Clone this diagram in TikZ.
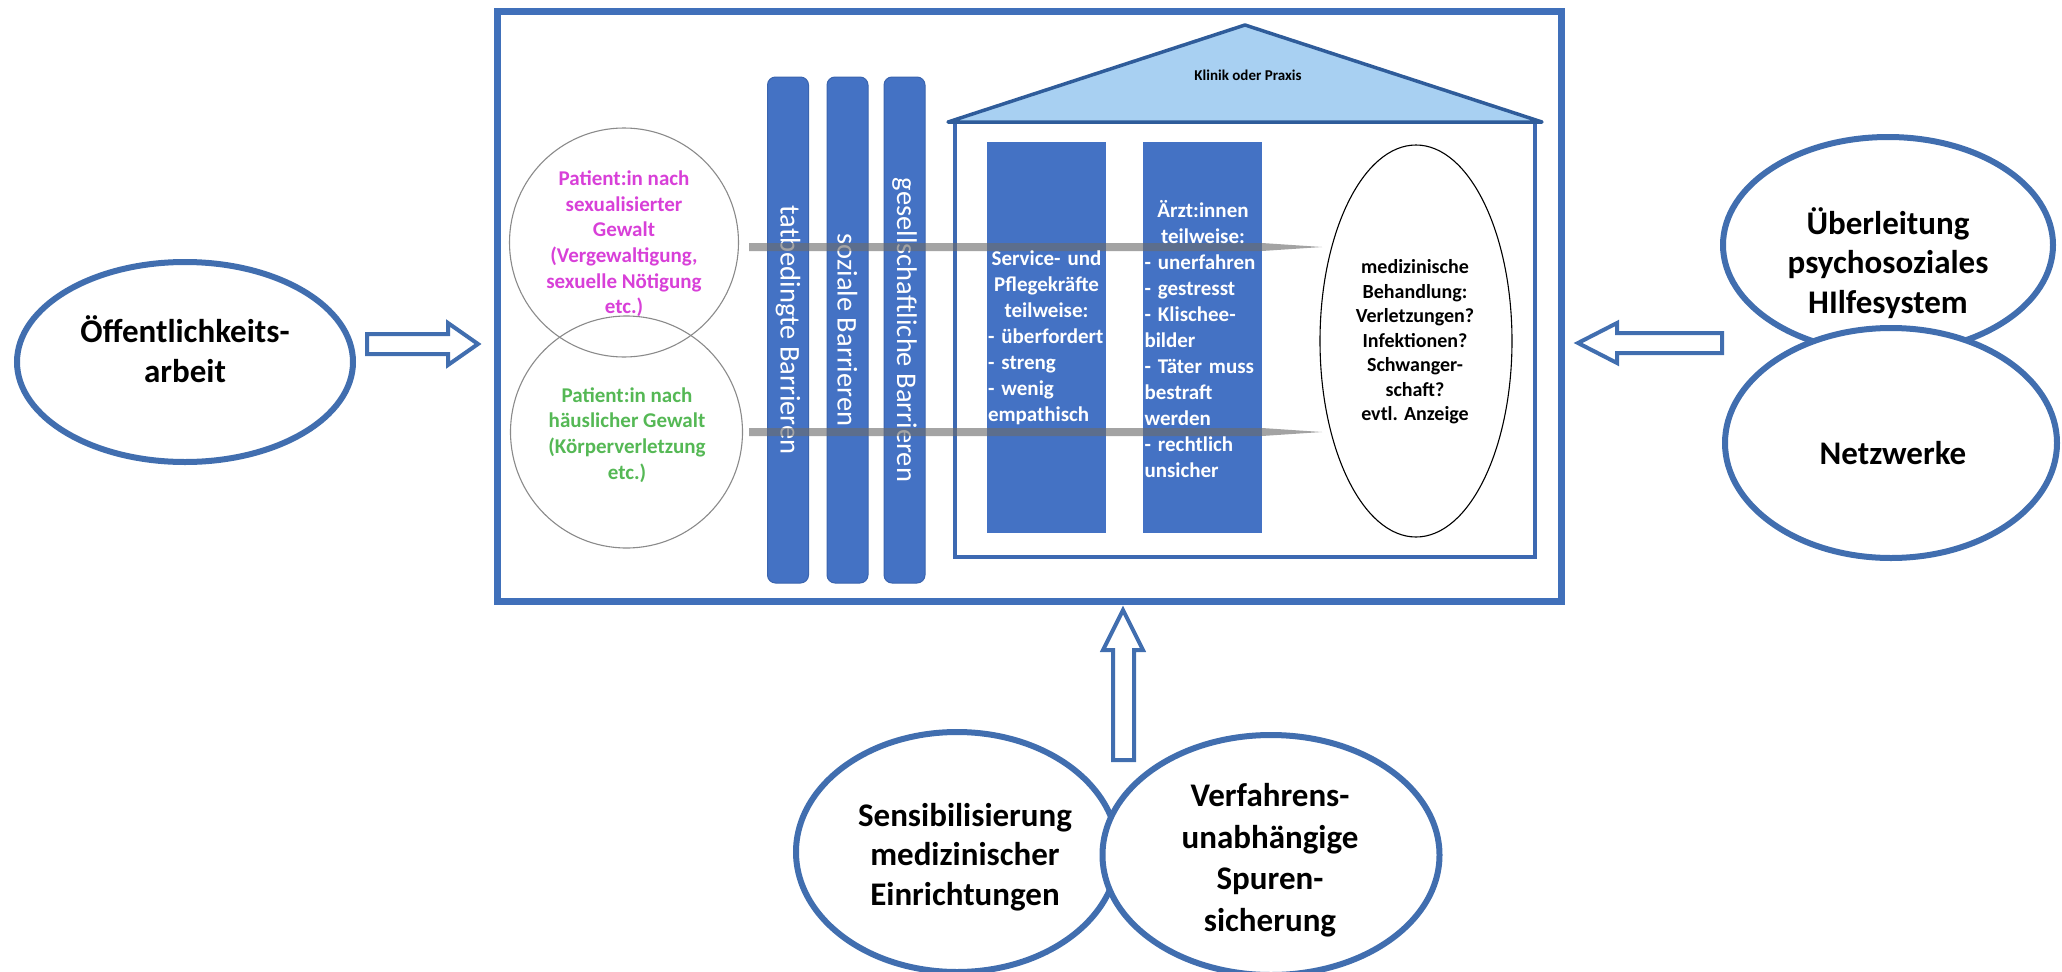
\documentclass[tikz,border=0pt]{standalone}
\usepackage{fontspec}
\setmainfont{Carlito}
\usetikzlibrary{shapes.geometric}
\definecolor{frameblue}{HTML}{4070BA}
\definecolor{ellblue}{HTML}{416EAF}
\definecolor{barblue}{HTML}{4472C4}
\definecolor{barline}{HTML}{3A64AE}
\definecolor{houseblue}{HTML}{3D69B2}
\definecolor{roofblue}{HTML}{A8D0F2}
\definecolor{roofline}{HTML}{2F5C9A}
\definecolor{magtext}{HTML}{D840D8}
\definecolor{grntext}{HTML}{55B855}
\definecolor{circgray}{HTML}{8A8A8A}
\begin{document}
\begin{tikzpicture}[x=1pt,y=-1pt,
  bigell/.style={ellipse, draw=ellblue, line width=6pt, fill=white, inner sep=0pt},
  bigtext/.style={font=\fontsize{33}{39.5}\selectfont\bfseries, align=center, inner sep=0pt},
  smallcirc/.style={circle, draw=circgray, line width=1.1pt, inner sep=0pt},
  circtext/.style={font=\fontsize{21}{25.6}\selectfont\bfseries, align=center, inner sep=0pt},
  barrier/.style={rectangle, rounded corners=8pt, fill=barblue, draw=barline, line width=1pt,
    text=white, font=\fontsize{28.5}{30}\selectfont, inner sep=0pt},
  colbox/.style={rectangle, fill=barblue, inner sep=0pt},
  coltext/.style={font=\fontsize{21}{26}\selectfont\bfseries, text=white, align=left,
    text width=117pt, inner sep=0pt},
  graybar/.style={fill=gray!85!black, opacity=0.62},
  blockarrow/.style={draw=ellblue, line width=4pt, fill=white, line join=miter}
]
\useasboundingbox (0,0) rectangle (2062,972);

% main frame
\node[draw=frameblue, line width=7pt, minimum width=1064pt, minimum height=590pt, inner sep=0pt] (frame) at (1029,306) {};

% patient circles
\node[smallcirc, minimum size=229pt] (c1) at (624,242.5) {};
\node[smallcirc, minimum size=232pt] (c2) at (626.5,432) {};
\node[circtext, text=magtext] (t1) at (624,244) {Patient:in nach\\sexualisierter\\Gewalt\\(Vergewaltigung,\\sexuelle Nötigung\\etc.)};
\node[circtext, text=grntext] (t2) at (627,435) {Patient:in nach\\häuslicher Gewalt\\(Körperverletzung\\etc.)};

% barriers
\node[barrier, rotate=-90, minimum width=506pt, minimum height=41pt] (b1) at (788,330) {tatbedingte Barrieren};
\node[barrier, rotate=-90, minimum width=506pt, minimum height=41pt] (b2) at (847.5,330) {soziale Barrieren};
\node[barrier, rotate=-90, minimum width=506pt, minimum height=41pt] (b3) at (904.5,330) {gesellschaftliche Barrieren};

% house
\node[draw=houseblue, line width=4pt, fill=white, minimum width=580pt, minimum height=436pt, inner sep=0pt] (house) at (1245,339) {};
\draw[fill=roofblue, draw=roofline, line width=3.5pt, line join=round] (948,122) -- (1245,25) -- (1542,122) -- cycle;
\node[font=\fontsize{15}{18}\selectfont\bfseries, inner sep=0pt] (klinik) at (1248,75) {Klinik oder Praxis};

\node[colbox, minimum width=119pt, minimum height=391pt] (k1) at (1046.5,337.5) {};
\node[colbox, minimum width=119pt, minimum height=391pt] (k2) at (1202.5,337.5) {};
\node[ellipse, draw=black, line width=1.1pt, fill=white, minimum width=192pt, minimum height=392pt, inner sep=0pt] (med) at (1416,341) {};

% gray bars
\fill[graybar] (749,243) -- (1262,243) -- (1322,247) -- (1262,251) -- (749,251) -- cycle;
\fill[graybar] (749,428) -- (1262,428) -- (1322,432) -- (1262,436) -- (749,436) -- cycle;

% column texts
\node[coltext] (kt1) at (1046.5,338) {\makebox[\linewidth]{Service- und}\\\makebox[\linewidth]{Pflegekräfte}\\\makebox[\linewidth]{teilweise:}\\- überfordert\\- streng\\- wenig\\empathisch};
\node[coltext] (kt2) at (1203,339) {\makebox[\linewidth]{Ärzt:innen}\\\makebox[\linewidth]{teilweise:}\\- unerfahren\\- gestresst\\- Klischee-\\bilder\\- Täter muss\\bestraft\\werden\\- rechtlich\\unsicher};
\node[font=\fontsize{20}{24.5}\selectfont\bfseries, align=center, inner sep=0pt] (medt) at (1415,342) {medizinische\\Behandlung:\\Verletzungen?\\Infektionen?\\Schwanger-\\schaft?\\evtl. Anzeige};

% outer ellipses
\node[bigell, minimum width=336pt, minimum height=200pt] (oeff) at (185,362) {};
\node[bigtext] (oefft) at (185,349) {Öffentlichkeits-\\arbeit};

\node[bigell, minimum width=330pt, minimum height=216pt] (ueb) at (1888,245) {};
\node[bigell, minimum width=332pt, minimum height=230pt] (netz) at (1891,443) {};
\node[bigtext] (uebt) at (1888,263) {Überleitung\\psychosoziales\\HIlfesystem};
\node[bigtext] (netzt) at (1893,453) {Netzwerke};

\node[bigell, minimum width=322pt, minimum height=240pt] (sens) at (957,852) {};
\node[bigell, minimum width=337pt, minimum height=240pt] (verf) at (1271,855) {};
\node[bigtext] (senst) at (965,857) {Sensibilisierung\\medizinischer\\Einrichtungen};
\node[bigtext, font=\fontsize{33}{41.5}\selectfont\bfseries] (verft) at (1270,860) {Verfahrens-\\unabhängige\\Spuren-\\sicherung};

% block arrows
\draw[blockarrow] (367,334) -- (448,334) -- (448,323) -- (478,344) -- (448,365) -- (448,354) -- (367,354) -- cycle;
\draw[blockarrow] (1722,333) -- (1617,333) -- (1617,323) -- (1578,343) -- (1617,363) -- (1617,353) -- (1722,353) -- cycle;
\draw[blockarrow] (1113,760) -- (1113,650) -- (1103,650) -- (1123,610) -- (1143,650) -- (1134,650) -- (1134,760) -- cycle;
\end{tikzpicture}
\end{document}
